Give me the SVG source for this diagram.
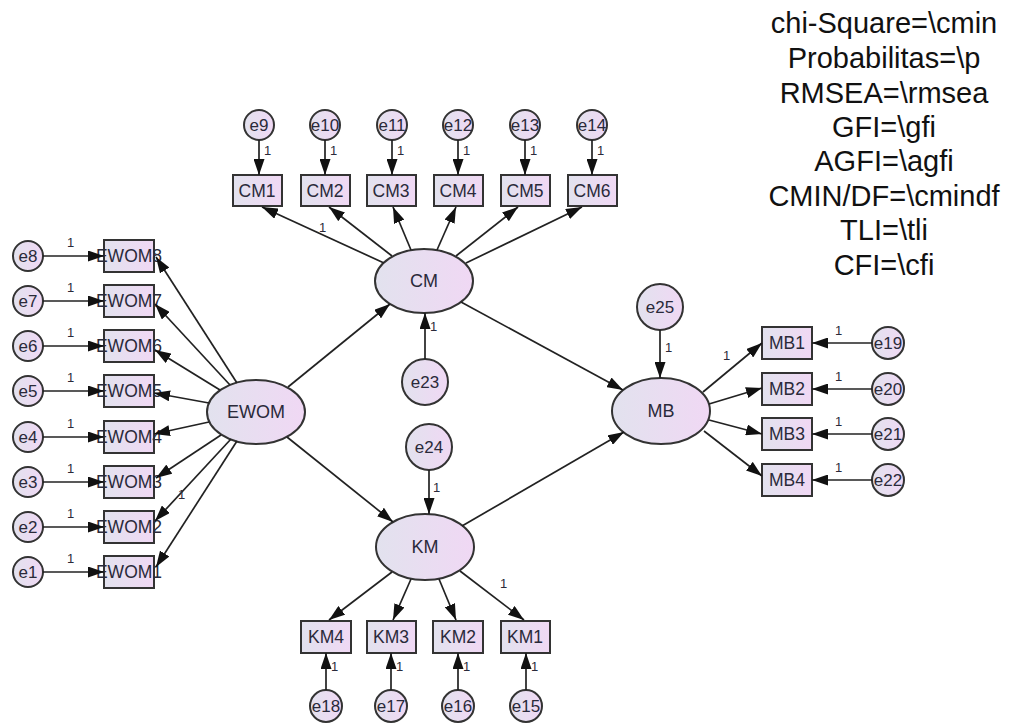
<svg xmlns="http://www.w3.org/2000/svg" width="1013" height="726" viewBox="0 0 1013 726">
<defs>
<linearGradient id="fl" x1="0" y1="0" x2="1" y2="0">
<stop offset="0" stop-color="#e2e2ee"/>
<stop offset="1" stop-color="#f0d8f4"/>
</linearGradient>
<marker id="ah" markerUnits="userSpaceOnUse" markerWidth="16" markerHeight="11" refX="16" refY="5.5" orient="auto">
<path d="M0,0 L16,5.5 L0,11 z" fill="#111"/>
</marker>
</defs>
<style>
text{font-family:"Liberation Sans",Arial,sans-serif;fill:#2a2a3a}
.bx{fill:url(#fl);stroke:#333;stroke-width:2}
.el{fill:url(#fl);stroke:#333;stroke-width:2}
.er{fill:url(#fl);stroke:#333;stroke-width:2}
.bt{font-size:17.5px;text-anchor:middle}
.et{font-size:17px;text-anchor:middle}
.lt{font-size:18px;text-anchor:middle}
.one{font-size:13px}
.cn line{stroke:#222;stroke-width:1.7;marker-end:url(#ah)}
.fit{font-size:29px;text-anchor:middle;fill:#111}
</style>
<rect width="1013" height="726" fill="#fff"/>

<!-- latent variables -->
<g id="EWOM"><ellipse class="el" cx="256" cy="412" rx="49" ry="32"/><text class="lt" x="256" y="418">EWOM</text></g>
<g id="CM"><ellipse class="el" cx="424" cy="281" rx="49" ry="32"/><text class="lt" x="424" y="287">CM</text></g>
<g id="KM"><ellipse class="el" cx="425" cy="547" rx="49" ry="33"/><text class="lt" x="425" y="553">KM</text></g>
<g id="MB"><ellipse class="el" cx="661" cy="411" rx="49" ry="33"/><text class="lt" x="661" y="417">MB</text></g>

<!-- EWOM indicators -->
<g id="EWOM8"><rect class="bx" x="104" y="240" width="50" height="32"/><text class="bt" x="129" y="262">EWOM8</text></g>
<g id="EWOM7"><rect class="bx" x="104" y="285" width="50" height="32"/><text class="bt" x="129" y="307">EWOM7</text></g>
<g id="EWOM6"><rect class="bx" x="104" y="330" width="50" height="32"/><text class="bt" x="129" y="352">EWOM6</text></g>
<g id="EWOM5"><rect class="bx" x="104" y="375" width="50" height="32"/><text class="bt" x="129" y="397">EWOM5</text></g>
<g id="EWOM4"><rect class="bx" x="104" y="421" width="50" height="32"/><text class="bt" x="129" y="443">EWOM4</text></g>
<g id="EWOM3"><rect class="bx" x="104" y="466" width="50" height="32"/><text class="bt" x="129" y="488">EWOM3</text></g>
<g id="EWOM2"><rect class="bx" x="104" y="511" width="50" height="32"/><text class="bt" x="129" y="533">EWOM2</text></g>
<g id="EWOM1"><rect class="bx" x="104" y="556" width="50" height="32"/><text class="bt" x="129" y="578">EWOM1</text></g>

<g id="e8"><circle class="er" cx="28" cy="256" r="15"/><text class="et" x="28" y="262">e8</text></g>
<g id="e7"><circle class="er" cx="28" cy="301" r="15"/><text class="et" x="28" y="307">e7</text></g>
<g id="e6"><circle class="er" cx="28" cy="346" r="15"/><text class="et" x="28" y="352">e6</text></g>
<g id="e5"><circle class="er" cx="28" cy="391" r="15"/><text class="et" x="28" y="397">e5</text></g>
<g id="e4"><circle class="er" cx="28" cy="437" r="15"/><text class="et" x="28" y="443">e4</text></g>
<g id="e3"><circle class="er" cx="28" cy="482" r="15"/><text class="et" x="28" y="488">e3</text></g>
<g id="e2"><circle class="er" cx="28" cy="527" r="15"/><text class="et" x="28" y="533">e2</text></g>
<g id="e1"><circle class="er" cx="28" cy="572" r="15"/><text class="et" x="28" y="578">e1</text></g>

<!-- CM indicators -->
<g id="CM1"><rect class="bx" x="233" y="175" width="49" height="31"/><text class="bt" x="257" y="197">CM1</text></g>
<g id="CM2"><rect class="bx" x="301" y="175" width="49" height="31"/><text class="bt" x="325" y="197">CM2</text></g>
<g id="CM3"><rect class="bx" x="367" y="175" width="49" height="31"/><text class="bt" x="391" y="197">CM3</text></g>
<g id="CM4"><rect class="bx" x="434" y="175" width="49" height="31"/><text class="bt" x="458" y="197">CM4</text></g>
<g id="CM5"><rect class="bx" x="501" y="175" width="49" height="31"/><text class="bt" x="525" y="197">CM5</text></g>
<g id="CM6"><rect class="bx" x="568" y="175" width="49" height="31"/><text class="bt" x="592" y="197">CM6</text></g>

<g id="e9"><circle class="er" cx="259" cy="125" r="15"/><text class="et" x="259" y="131">e9</text></g>
<g id="e10"><circle class="er" cx="325" cy="125" r="15"/><text class="et" x="325" y="131">e10</text></g>
<g id="e11"><circle class="er" cx="392" cy="125" r="15"/><text class="et" x="392" y="131">e11</text></g>
<g id="e12"><circle class="er" cx="458" cy="125" r="15"/><text class="et" x="458" y="131">e12</text></g>
<g id="e13"><circle class="er" cx="525" cy="125" r="15"/><text class="et" x="525" y="131">e13</text></g>
<g id="e14"><circle class="er" cx="592" cy="125" r="15"/><text class="et" x="592" y="131">e14</text></g>

<!-- KM indicators -->
<g id="KM4"><rect class="bx" x="301" y="621" width="50" height="32"/><text class="bt" x="326" y="643">KM4</text></g>
<g id="KM3"><rect class="bx" x="367" y="621" width="49" height="32"/><text class="bt" x="391" y="643">KM3</text></g>
<g id="KM2"><rect class="bx" x="433" y="621" width="50" height="32"/><text class="bt" x="458" y="643">KM2</text></g>
<g id="KM1"><rect class="bx" x="501" y="621" width="49" height="32"/><text class="bt" x="525" y="643">KM1</text></g>

<g id="e18"><circle class="er" cx="326" cy="706" r="16"/><text class="et" x="326" y="712">e18</text></g>
<g id="e17"><circle class="er" cx="391" cy="706" r="16"/><text class="et" x="391" y="712">e17</text></g>
<g id="e16"><circle class="er" cx="458" cy="706" r="16"/><text class="et" x="458" y="712">e16</text></g>
<g id="e15"><circle class="er" cx="526" cy="706" r="16"/><text class="et" x="526" y="712">e15</text></g>

<!-- MB indicators -->
<g id="MB1"><rect class="bx" x="762" y="327" width="50" height="32"/><text class="bt" x="787" y="349">MB1</text></g>
<g id="MB2"><rect class="bx" x="762" y="373" width="50" height="32"/><text class="bt" x="787" y="395">MB2</text></g>
<g id="MB3"><rect class="bx" x="762" y="418" width="50" height="32"/><text class="bt" x="787" y="440">MB3</text></g>
<g id="MB4"><rect class="bx" x="762" y="464" width="50" height="32"/><text class="bt" x="787" y="486">MB4</text></g>

<g id="e19"><circle class="er" cx="888" cy="343" r="16"/><text class="et" x="888" y="349">e19</text></g>
<g id="e20"><circle class="er" cx="888" cy="389" r="16"/><text class="et" x="888" y="395">e20</text></g>
<g id="e21"><circle class="er" cx="888" cy="434" r="16"/><text class="et" x="888" y="440">e21</text></g>
<g id="e22"><circle class="er" cx="888" cy="480" r="16"/><text class="et" x="888" y="486">e22</text></g>

<!-- disturbances -->
<g id="e23"><circle class="er" cx="425" cy="382" r="23"/><text class="et" x="425" y="388">e23</text></g>
<g id="e24"><circle class="er" cx="429" cy="447" r="23"/><text class="et" x="429" y="453">e24</text></g>
<g id="e25"><circle class="er" cx="660" cy="307" r="23"/><text class="et" x="660" y="313">e25</text></g>

<!-- connectors -->
<g id="connectors" class="cn">
<line x1="237" y1="383" x2="156" y2="257"/>
<line x1="230" y1="385" x2="155" y2="304"/>
<line x1="220" y1="390" x2="155" y2="350"/>
<line x1="209" y1="403" x2="154" y2="393"/>
<line x1="209" y1="422" x2="154" y2="434"/>
<line x1="221" y1="435" x2="156" y2="478"/>
<line x1="231" y1="439" x2="155" y2="521"/>
<line x1="237" y1="441" x2="156" y2="567"/>

<line x1="43" y1="256" x2="104" y2="256"/>
<line x1="43" y1="301" x2="104" y2="301"/>
<line x1="43" y1="346" x2="104" y2="346"/>
<line x1="43" y1="391" x2="104" y2="391"/>
<line x1="43" y1="437" x2="104" y2="437"/>
<line x1="43" y1="482" x2="104" y2="482"/>
<line x1="43" y1="527" x2="104" y2="527"/>
<line x1="43" y1="572" x2="104" y2="572"/>

<line x1="384" y1="263" x2="262" y2="207"/>
<line x1="392" y1="256" x2="329" y2="207"/>
<line x1="411" y1="250" x2="393" y2="207"/>
<line x1="437" y1="250" x2="456" y2="207"/>
<line x1="456" y1="256" x2="518" y2="207"/>
<line x1="466" y1="263" x2="582" y2="207"/>

<line x1="259" y1="140" x2="259" y2="175"/>
<line x1="325" y1="140" x2="325" y2="175"/>
<line x1="392" y1="140" x2="392" y2="175"/>
<line x1="458" y1="140" x2="458" y2="175"/>
<line x1="525" y1="140" x2="525" y2="175"/>
<line x1="592" y1="140" x2="592" y2="175"/>

<line x1="392" y1="572" x2="329" y2="620"/>
<line x1="411" y1="579" x2="393" y2="620"/>
<line x1="439" y1="579" x2="456" y2="620"/>
<line x1="460" y1="571" x2="524" y2="620"/>

<line x1="326" y1="690" x2="326" y2="653"/>
<line x1="391" y1="690" x2="391" y2="653"/>
<line x1="458" y1="690" x2="458" y2="653"/>
<line x1="526" y1="690" x2="526" y2="653"/>

<line x1="703" y1="392" x2="762" y2="343"/>
<line x1="709" y1="404" x2="762" y2="388"/>
<line x1="709" y1="420" x2="762" y2="434"/>
<line x1="704" y1="431" x2="762" y2="476"/>

<line x1="872" y1="343" x2="812" y2="343"/>
<line x1="872" y1="389" x2="812" y2="389"/>
<line x1="872" y1="434" x2="812" y2="434"/>
<line x1="872" y1="480" x2="812" y2="480"/>

<line x1="288" y1="387" x2="390" y2="304"/>
<line x1="287" y1="437" x2="393" y2="522"/>
<line x1="461" y1="302" x2="623" y2="390"/>
<line x1="462" y1="526" x2="624" y2="432"/>

<line x1="425" y1="359" x2="425" y2="313"/>
<line x1="429" y1="470" x2="429" y2="514"/>
<line x1="660" y1="330" x2="660" y2="378"/>
</g>

<!-- parameter labels -->
<g id="labels">
<text class="one" x="67" y="247">1</text>
<text class="one" x="67" y="292">1</text>
<text class="one" x="67" y="337">1</text>
<text class="one" x="67" y="382">1</text>
<text class="one" x="67" y="428">1</text>
<text class="one" x="67" y="473">1</text>
<text class="one" x="67" y="518">1</text>
<text class="one" x="67" y="563">1</text>
<text class="one" x="178" y="499">1</text>
<text class="one" x="264" y="155">1</text>
<text class="one" x="330" y="155">1</text>
<text class="one" x="397" y="155">1</text>
<text class="one" x="463" y="155">1</text>
<text class="one" x="530" y="155">1</text>
<text class="one" x="597" y="155">1</text>
<text class="one" x="319" y="232">1</text>
<text class="one" x="430" y="331">1</text>
<text class="one" x="433" y="492">1</text>
<text class="one" x="500" y="588">1</text>
<text class="one" x="331" y="671">1</text>
<text class="one" x="396" y="671">1</text>
<text class="one" x="463" y="671">1</text>
<text class="one" x="531" y="671">1</text>
<text class="one" x="665" y="352">1</text>
<text class="one" x="723" y="360">1</text>
<text class="one" x="835" y="335">1</text>
<text class="one" x="835" y="381">1</text>
<text class="one" x="835" y="426">1</text>
<text class="one" x="835" y="472">1</text>
</g>

<!-- fit statistics -->
<g id="fit">
<text class="fit" x="884" y="33">chi-Square=\cmin</text>
<text class="fit" x="884" y="68">Probabilitas=\p</text>
<text class="fit" x="884" y="103">RMSEA=\rmsea</text>
<text class="fit" x="884" y="137">GFI=\gfi</text>
<text class="fit" x="884" y="171">AGFI=\agfi</text>
<text class="fit" x="884" y="206">CMIN/DF=\cmindf</text>
<text class="fit" x="884" y="240">TLI=\tli</text>
<text class="fit" x="884" y="275">CFI=\cfi</text>
</g>
</svg>
